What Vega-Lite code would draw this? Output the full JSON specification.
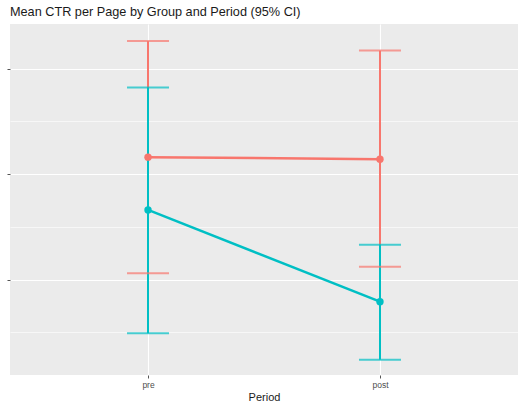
{
  "$schema": "https://vega.github.io/schema/vega-lite/v6.json",
  "width": 508,
  "height": 351,
  "autosize": {"type": "none"},
  "padding": {"left": 10, "top": 24, "right": 0, "bottom": 30},
  "background": "white",
  "title": {
    "text": "Mean CTR per Page by Group and Period (95% CI)",
    "anchor": "start",
    "frame": "group",
    "font": "Liberation Sans",
    "fontSize": 12.7,
    "fontWeight": "normal",
    "color": "#1a1a1a",
    "offset": 5
  },
  "config": {
    "view": {"fill": "#EBEBEB", "stroke": null},
    "font": "Liberation Sans"
  },
  "data": {
    "values": [
      {"group": "A", "period": "pre", "mean": 0.0316, "lower": 0.0206, "upper": 0.0426},
      {"group": "A", "period": "post", "mean": 0.0314, "lower": 0.0212, "upper": 0.0417},
      {"group": "B", "period": "pre", "mean": 0.0266, "lower": 0.0149, "upper": 0.0382},
      {"group": "B", "period": "post", "mean": 0.0179, "lower": 0.0124, "upper": 0.0233}
    ]
  },
  "encoding": {
    "x": {
      "field": "period",
      "type": "ordinal",
      "sort": ["pre", "post"],
      "scale": {"type": "point", "padding": 0.595},
      "axis": {
        "title": "Period",
        "titleFont": "Liberation Sans",
        "titleFontSize": 11,
        "titleFontWeight": "normal",
        "titleColor": "#1a1a1a",
        "titlePadding": 3,
        "labelAngle": 0,
        "labelFont": "Liberation Sans",
        "labelFontSize": 8.5,
        "labelColor": "#4D4D4D",
        "labelPadding": 2,
        "tickColor": "#555555",
        "tickSize": 3,
        "domain": false,
        "grid": true,
        "gridColor": "white",
        "gridWidth": 1.1,
        "zindex": 0
      }
    },
    "color": {
      "field": "group",
      "type": "nominal",
      "scale": {"domain": ["A", "B"], "range": ["#F8766D", "#00BFC4"]},
      "legend": null
    }
  },
  "layer": [
    {
      "mark": {"type": "rule", "strokeWidth": 2},
      "encoding": {
        "y": {
          "field": "lower",
          "type": "quantitative",
          "scale": {"domain": [0.01095, 0.04422], "nice": false, "zero": false},
          "axis": {
            "title": null,
            "values": [0.02, 0.03, 0.04],
            "labels": false,
            "tickColor": "#555555",
            "tickSize": 3,
            "domain": false,
            "grid": true,
            "gridColor": "white",
            "gridWidth": 1.1,
            "zindex": 0
          }
        },
        "y2": {"field": "upper"}
      }
    },
    {
      "mark": {"type": "tick", "thickness": 2, "size": 42},
      "encoding": {"y": {"field": "upper", "type": "quantitative"}}
    },
    {
      "mark": {"type": "tick", "thickness": 2, "size": 42},
      "encoding": {"y": {"field": "lower", "type": "quantitative"}}
    },
    {
      "mark": {"type": "line", "strokeWidth": 2.5},
      "encoding": {
        "y": {"field": "mean", "type": "quantitative"},
        "detail": {"field": "group"}
      }
    },
    {
      "mark": {"type": "point", "filled": true, "opacity": 1, "size": 55},
      "encoding": {"y": {"field": "mean", "type": "quantitative"}}
    },
    {
      "mark": {"type": "rule", "opacity": 0},
      "encoding": {
        "y": {
          "field": "mean",
          "type": "quantitative",
          "axis": {
            "values": [0.015, 0.025, 0.035],
            "labels": false,
            "ticks": false,
            "domain": false,
            "title": null,
            "grid": true,
            "gridColor": "white",
            "gridWidth": 0.6,
            "zindex": 0
          }
        }
      }
    }
  ],
  "resolve": {"axis": {"y": "independent"}}
}
